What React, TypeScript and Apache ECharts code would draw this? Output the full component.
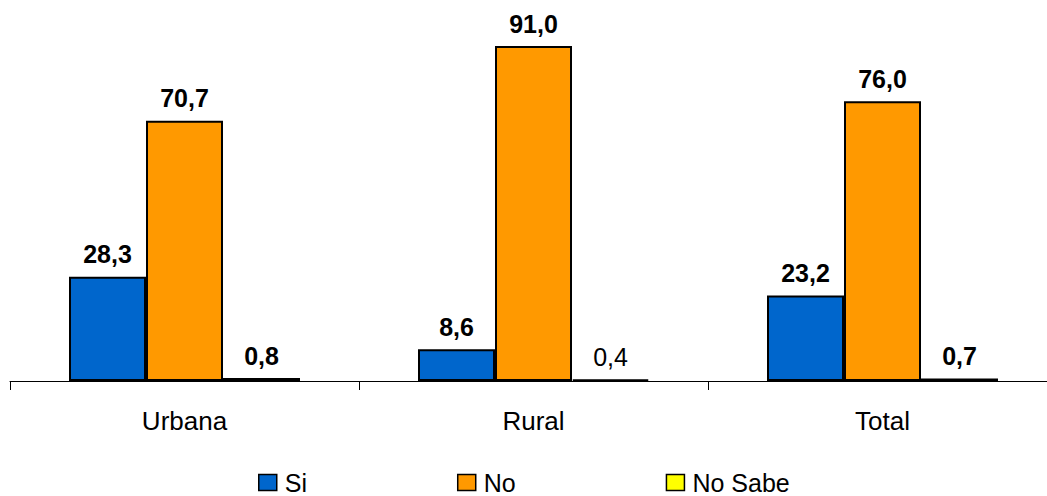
import React, { useEffect, useRef } from "react";
import * as echarts from "echarts";

const categories = ["Urbana", "Rural", "Total"];
const siValues = [28.3, 8.6, 23.2];
const noValues = [70.7, 91.0, 76.0];
const noSabeValues = [0.8, 0.4, 0.7];
const seriesNames = ["Si", "No", "No Sabe"];
const colors = ["#0066CC", "#FF9900", "#FFFF00"];

const fmt = (v: number) => v.toFixed(1).replace(".", ",");
const FONT = "Liberation Sans, Arial, sans-serif";

export default function App() {
  const ref = useRef<HTMLDivElement>(null);
  useEffect(() => {
    if (!ref.current) return;
    const chart = echarts.init(ref.current, undefined, { renderer: "svg" });
    const labelBase = {
      show: true,
      position: "top" as const,
      distance: 10,
      fontFamily: FONT,
      fontSize: 25,
      fontWeight: "bold" as const,
      color: "#000",
      formatter: (p: any) => fmt(p.value),
    };
    const mk = (name: string, vals: number[], color: string, normalIdx: number[] = []) => ({
      name,
      type: "bar",
      barWidth: 77,
      barGap: "0%",
      itemStyle: { color, borderColor: "#000", borderWidth: 2 },
      label: labelBase,
      data: vals.map((v, i) =>
        normalIdx.includes(i)
          ? { value: v, label: { fontWeight: "normal" } }
          : { value: v }
      ),
    });
    chart.setOption({
      animation: false,
      color: colors,
      grid: { left: 10, right: 0, top: 13, bottom: 115, containLabel: false },
      legend: {
        top: 470,
        left: 258,
        padding: 0,
        itemGap: 150,
        itemWidth: 18,
        itemHeight: 16,
        icon: "rect",
        itemStyle: { borderColor: "#000", borderWidth: 1.5 },
        textStyle: { fontFamily: FONT, fontSize: 25, color: "#000", padding: [0, 0, 0, 3] },
        data: seriesNames,
      },
      xAxis: {
        type: "category",
        data: categories,
        axisLine: { lineStyle: { color: "#000", width: 1 } },
        axisTick: { show: true, length: 9, lineStyle: { color: "#000" } },
        axisLabel: {
          fontFamily: FONT,
          fontSize: 26,
          color: "#000",
          margin: 27,
        },
      },
      yAxis: {
        type: "value",
        min: 0,
        max: 100,
        show: false,
        splitLine: { show: false },
      },
      series: [
        mk(seriesNames[0], siValues, colors[0]),
        mk(seriesNames[1], noValues, colors[1]),
        mk(seriesNames[2], noSabeValues, colors[2], [1]),
      ],
    });
    return () => chart.dispose();
  }, []);
  return (
    <div
      style={{
        position: "fixed",
        left: 0,
        top: 0,
        width: 1047,
        height: 496,
        overflow: "hidden",
        background: "#fff",
      }}
    >
      <div ref={ref} style={{ width: 1057, height: 496 }} />
    </div>
  );
}
